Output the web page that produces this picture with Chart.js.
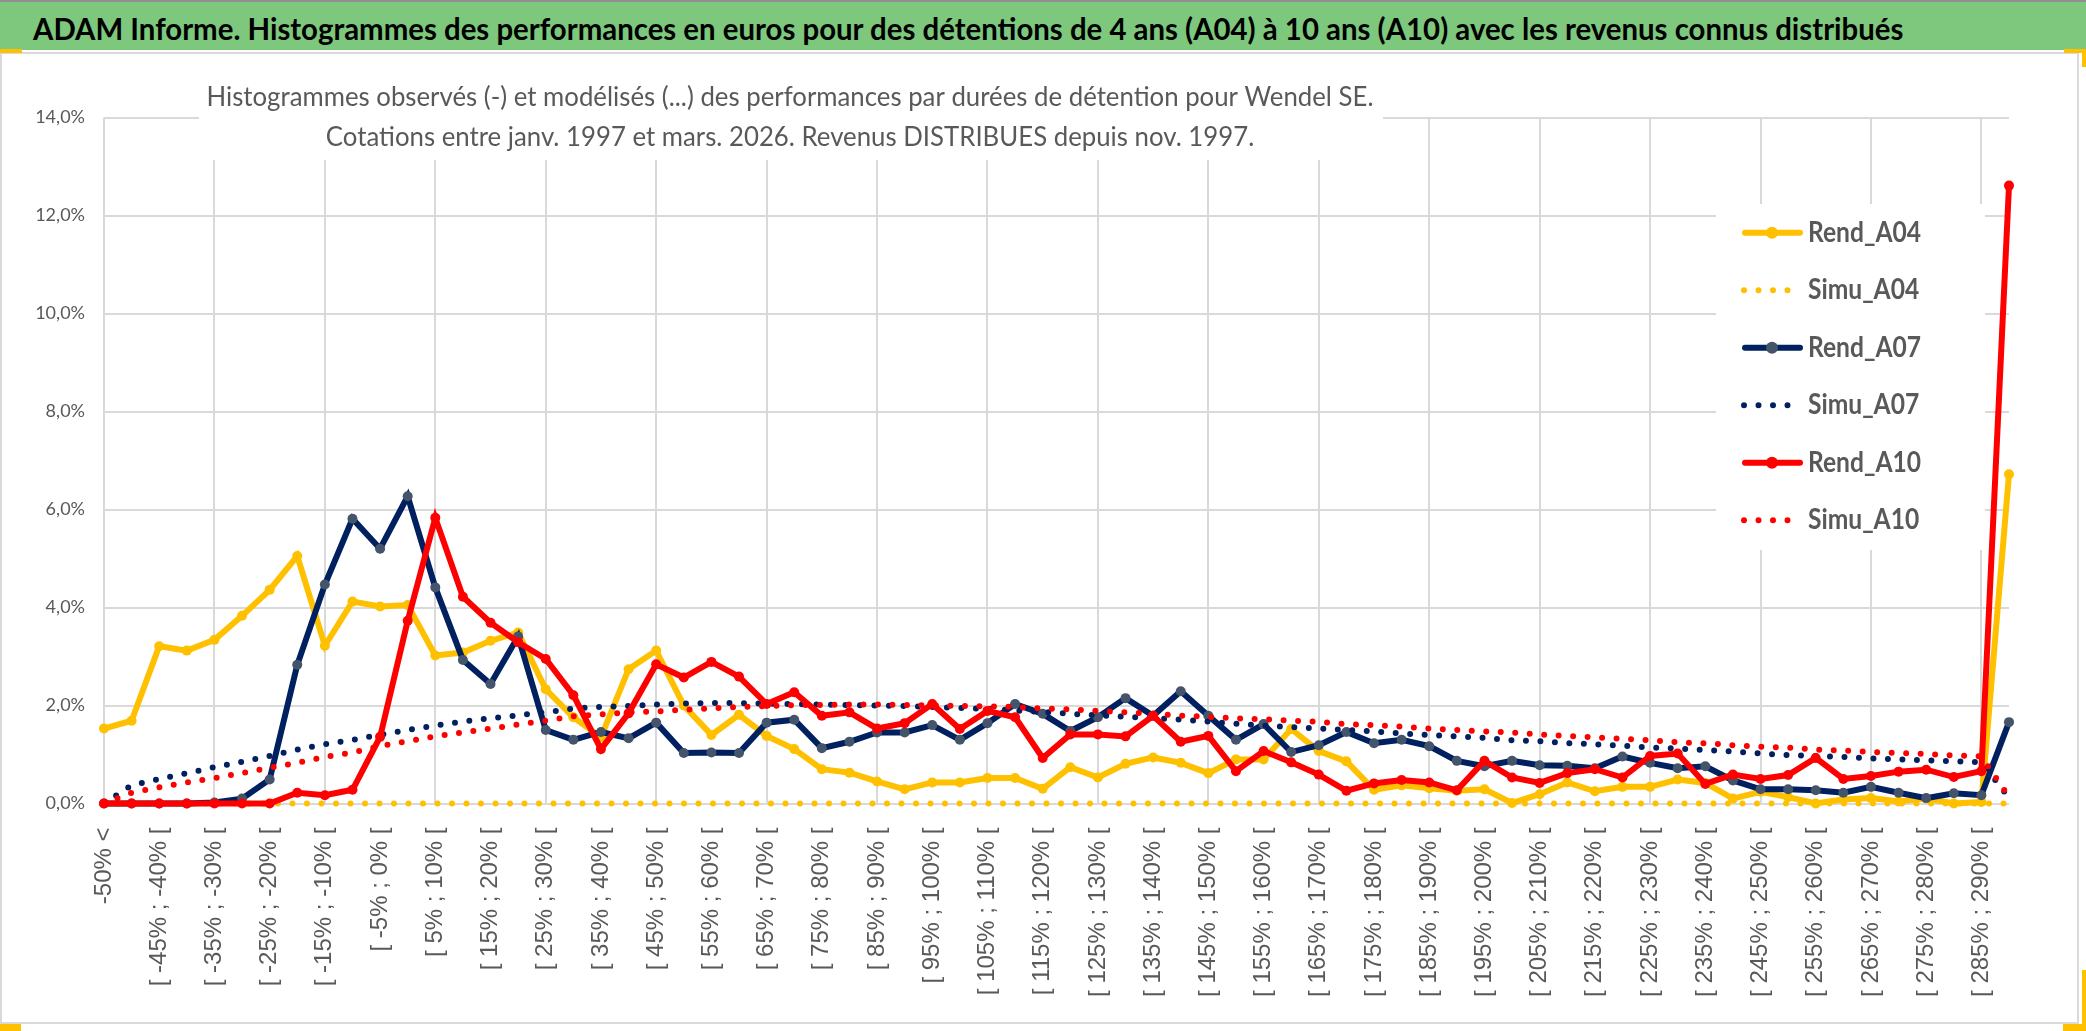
<!DOCTYPE html>
<html lang="fr">
<head>
<meta charset="utf-8">
<title>ADAM Informe - Wendel SE</title>
<script src="https://cdn.jsdelivr.net/npm/chart.js@4.4.1/dist/chart.umd.min.js"></script>
<style>
  html, body { margin: 0; padding: 0; background: #ffffff; }
  body { width: 2086px; height: 1031px; position: relative; overflow: hidden; }
  #banner { position: absolute; left: 0; top: 0; width: 2086px; height: 50px; background: #7dc87d; border-top: 2px solid #8f8f8f; box-sizing: border-box; }
  #title { position: absolute; left: 33px; top: 11px; white-space: nowrap; font-family: Lato, "Noto Sans", sans-serif; font-weight: bold; color: #000000; line-height: 1; transform-origin: left top; }
  #frame { position: absolute; left: 0; top: 52px; width: 2079px; height: 972px; border: 2px solid #d9d9d9; box-sizing: border-box; }
  .mark { position: absolute; background: #ffc000; }
  #chart { position: absolute; left: 0; top: 0; }
</style>
</head>
<body>
<div id="frame"></div>
<div id="banner"><span id="title">ADAM Informe. Histogrammes des performances en euros pour des détentions de 4 ans (A04) à 10 ans (A10) avec les revenus connus distribués</span></div>
<div class="mark" style="left:0;top:49px;width:22px;height:4px"></div>
<div class="mark" style="left:2064px;top:49px;width:22px;height:4px"></div>
<div class="mark" style="left:2082px;top:49px;width:4px;height:18px"></div>
<div class="mark" style="left:0;top:1024px;width:21px;height:7px"></div>
<div class="mark" style="left:2063px;top:1024px;width:23px;height:7px"></div>
<div class="mark" style="left:2082px;top:970px;width:4px;height:61px"></div>
<canvas id="chart" width="2086" height="1031"></canvas>
<script>
// classes de performance (abscisses)
const categories = [
  "-50% <",
  "[ -50% ; -45% [", "[ -45% ; -40% [", "[ -40% ; -35% [", "[ -35% ; -30% [", "[ -30% ; -25% [",
  "[ -25% ; -20% [", "[ -20% ; -15% [", "[ -15% ; -10% [", "[ -10% ; -5% [", "[ -5% ; 0% [",
  "[ 0% ; 5% [", "[ 5% ; 10% [", "[ 10% ; 15% [", "[ 15% ; 20% [", "[ 20% ; 25% [",
  "[ 25% ; 30% [", "[ 30% ; 35% [", "[ 35% ; 40% [", "[ 40% ; 45% [", "[ 45% ; 50% [",
  "[ 50% ; 55% [", "[ 55% ; 60% [", "[ 60% ; 65% [", "[ 65% ; 70% [", "[ 70% ; 75% [",
  "[ 75% ; 80% [", "[ 80% ; 85% [", "[ 85% ; 90% [", "[ 90% ; 95% [", "[ 95% ; 100% [",
  "[ 100% ; 105% [", "[ 105% ; 110% [", "[ 110% ; 115% [", "[ 115% ; 120% [", "[ 120% ; 125% [",
  "[ 125% ; 130% [", "[ 130% ; 135% [", "[ 135% ; 140% [", "[ 140% ; 145% [", "[ 145% ; 150% [",
  "[ 150% ; 155% [", "[ 155% ; 160% [", "[ 160% ; 165% [", "[ 165% ; 170% [", "[ 170% ; 175% [",
  "[ 175% ; 180% [", "[ 180% ; 185% [", "[ 185% ; 190% [", "[ 190% ; 195% [", "[ 195% ; 200% [",
  "[ 200% ; 205% [", "[ 205% ; 210% [", "[ 210% ; 215% [", "[ 215% ; 220% [", "[ 220% ; 225% [",
  "[ 225% ; 230% [", "[ 230% ; 235% [", "[ 235% ; 240% [", "[ 240% ; 245% [", "[ 245% ; 250% [",
  "[ 250% ; 255% [", "[ 255% ; 260% [", "[ 260% ; 265% [", "[ 265% ; 270% [", "[ 270% ; 275% [",
  "[ 275% ; 280% [", "[ 280% ; 285% [", "[ 285% ; 290% [",
  "> 290%"
];

// frequences en %
const rendA04 = [
  1.53, 1.69, 3.21, 3.12, 3.34, 3.83, 4.36, 5.05, 3.22, 4.12,
  4.02, 4.05, 3.02, 3.08, 3.32, 3.49, 2.33, 1.76, 1.35, 2.74,
  3.12, 2.00, 1.40, 1.81, 1.38, 1.11, 0.70, 0.63, 0.45, 0.29,
  0.43, 0.43, 0.52, 0.52, 0.30, 0.74, 0.53, 0.81, 0.94, 0.83,
  0.62, 0.90, 0.90, 1.52, 1.07, 0.86, 0.28, 0.37, 0.31, 0.26,
  0.29, 0.01, 0.19, 0.43, 0.25, 0.34, 0.34, 0.49, 0.42, 0.10,
  0.24, 0.13, 0.00, 0.08, 0.11, 0.04, 0.10, 0.00, 0.03, 6.72
];
const simuA04 = [
  0, 0, 0, 0, 0, 0, 0, 0, 0, 0,
  0, 0, 0, 0, 0, 0, 0, 0, 0, 0,
  0, 0, 0, 0, 0, 0, 0, 0, 0, 0,
  0, 0, 0, 0, 0, 0, 0, 0, 0, 0,
  0, 0, 0, 0, 0, 0, 0, 0, 0, 0,
  0, 0, 0, 0, 0, 0, 0, 0, 0, 0,
  0, 0, 0, 0, 0, 0, 0, 0, 0, 0
];
const rendA07 = [
  0, 0, 0, 0, 0.02, 0.10, 0.49, 2.83, 4.47, 5.81,
  5.20, 6.27, 4.41, 2.93, 2.44, 3.41, 1.50, 1.30, 1.46, 1.33,
  1.65, 1.03, 1.04, 1.03, 1.65, 1.71, 1.13, 1.26, 1.45, 1.45,
  1.60, 1.30, 1.64, 2.03, 1.83, 1.48, 1.76, 2.15, 1.79, 2.29,
  1.79, 1.30, 1.62, 1.05, 1.19, 1.46, 1.23, 1.30, 1.17, 0.87,
  0.76, 0.87, 0.78, 0.77, 0.72, 0.96, 0.83, 0.72, 0.76, 0.47,
  0.29, 0.29, 0.27, 0.22, 0.34, 0.22, 0.11, 0.21, 0.17, 1.66
];
const simuA07 = [
  0, 0.37, 0.50, 0.62, 0.74, 0.85, 0.97, 1.10, 1.21, 1.30,
  1.40, 1.50, 1.59, 1.67, 1.74, 1.80, 1.86, 1.94, 1.97, 1.99,
  2.02, 2.04, 2.05, 2.05, 2.04, 2.03, 2.02, 2.01, 2.00, 1.99,
  1.97, 1.95, 1.93, 1.90, 1.87, 1.83, 1.80, 1.77, 1.74, 1.71,
  1.67, 1.63, 1.59, 1.56, 1.53, 1.50, 1.47, 1.43, 1.40, 1.37,
  1.34, 1.29, 1.27, 1.23, 1.21, 1.18, 1.14, 1.12, 1.09, 1.06,
  1.02, 0.99, 0.97, 0.95, 0.92, 0.90, 0.88, 0.86, 0.84, 0.12
];
const rendA10 = [
  0, 0, 0, 0, 0, 0, 0, 0.22, 0.17, 0.28,
  1.36, 3.73, 5.83, 4.22, 3.69, 3.29, 2.95, 2.21, 1.11, 1.84,
  2.84, 2.57, 2.89, 2.59, 2.03, 2.27, 1.79, 1.86, 1.53, 1.64,
  2.03, 1.52, 1.89, 1.76, 0.93, 1.41, 1.41, 1.37, 1.79, 1.26,
  1.38, 0.66, 1.07, 0.84, 0.59, 0.26, 0.41, 0.48, 0.43, 0.27,
  0.87, 0.53, 0.42, 0.62, 0.70, 0.53, 0.97, 1.02, 0.40, 0.59,
  0.50, 0.58, 0.93, 0.50, 0.56, 0.65, 0.69, 0.54, 0.66, 12.61
];
const simuA10 = [
  0, 0.22, 0.33, 0.43, 0.52, 0.62, 0.73, 0.83, 0.95, 1.04,
  1.17, 1.27, 1.37, 1.45, 1.53, 1.61, 1.69, 1.78, 1.82, 1.86,
  1.88, 1.91, 1.94, 1.97, 1.99, 2.01, 2.01, 2.02, 2.02, 2.01,
  2.00, 1.99, 1.98, 1.97, 1.94, 1.92, 1.89, 1.86, 1.83, 1.79,
  1.77, 1.74, 1.72, 1.69, 1.67, 1.62, 1.60, 1.57, 1.53, 1.50,
  1.47, 1.45, 1.41, 1.38, 1.35, 1.32, 1.29, 1.25, 1.23, 1.19,
  1.16, 1.14, 1.10, 1.08, 1.05, 1.03, 1.01, 0.98, 0.96, 0.13
];

const subtitleLines = [
  "Histogrammes observés (-) et modélisés (...) des performances par durées de détention pour Wendel SE.",
  "Cotations entre janv. 1997 et mars. 2026. Revenus DISTRIBUES depuis nov. 1997."
];

const YELLOW = "#ffc000";
const NAVY = "#002060";
const RED = "#ff0000";
const GREY = "#595959";
const CALIBRI = "Lato, 'Noto Sans', sans-serif";

const measureCtx = document.createElement("canvas").getContext("2d");
const textWidth = (text, font) => {
  measureCtx.font = font;
  return measureCtx.measureText(text).width;
};

// titre du bandeau : hauteur des capitales ~22px, largeur ~1871px
const titleEl = document.getElementById("title");
const titleSize = 30.5;
titleEl.style.fontSize = titleSize + "px";
const titleW = textWidth(titleEl.textContent, `bold ${titleSize}px ${CALIBRI}`);
titleEl.style.transform = `scaleX(${1871 / titleW})`;

const rendLine = (label, data, color, pointColor, order) => ({
  label: label,
  data: data,
  borderColor: color,
  backgroundColor: color,
  borderWidth: 6,
  pointRadius: 5,
  pointBackgroundColor: pointColor,
  pointBorderWidth: 0,
  pointHoverRadius: 5,
  tension: 0,
  clip: 12,
  order: order,
});

const simuLine = (label, data, color, order) => ({
  label: label,
  data: data,
  borderColor: color,
  backgroundColor: color,
  borderWidth: 6,
  borderDash: [0, 14.5],
  borderCapStyle: "round",
  pointRadius: 0,
  tension: 0,
  clip: 12,
  order: order,
  simu: true,
});

const drawText = (ctx, text, x, y, font, color, capPx, targetW, align) => {
  ctx.save();
  ctx.font = font;
  ctx.fillStyle = color;
  ctx.textBaseline = "alphabetic";
  const w = ctx.measureText(text).width;
  const sx = targetW / w;
  ctx.translate(x, y);
  ctx.scale(sx, 1);
  ctx.textAlign = align;
  ctx.fillText(text, 0, 0);
  ctx.restore();
};

const decorations = {
  id: "decorations",
  beforeDatasetsDraw(chart) {
    const c = chart.ctx;
    c.save();
    c.fillStyle = "#ffffff";
    c.fillRect(199, 60, 1184, 100);   // zone du sous-titre
    c.fillRect(1716, 204, 269, 346);  // zone de la legende
    c.restore();
  },
  afterDraw(chart) {
    const c = chart.ctx;

    // sous-titre en deux lignes
    const subSize = 26.4;
    const subFont = `${subSize}px ${CALIBRI}`;
    c.font = subFont;
    const sx = 1167 / c.measureText(subtitleLines[0]).width;
    const w2 = c.measureText(subtitleLines[1]).width * sx;
    drawText(c, subtitleLines[0], 790, 106, subFont, GREY, 19, 1167, "center");
    drawText(c, subtitleLines[1], 790, 146, subFont, GREY, 19, w2, "center");

    // legende
    const legSize = 27.8;
    const legFont = `bold ${legSize}px ${CALIBRI}`;
    c.font = legFont;
    const lsx = 113 / c.measureText("Rend_A04").width;
    chart.data.datasets.forEach((ds, i) => {
      const y = 232.7 + i * 57.5;
      c.save();
      c.strokeStyle = ds.borderColor;
      c.lineWidth = 6;
      c.lineCap = "round";
      if (ds.simu) {
        c.setLineDash([0, 14.5]);
        c.beginPath();
        c.moveTo(1744, y);
        c.lineTo(1790, y);
        c.stroke();
      } else {
        c.beginPath();
        c.moveTo(1745, y);
        c.lineTo(1800, y);
        c.stroke();
        c.fillStyle = ds.pointBackgroundColor;
        c.beginPath();
        c.arc(1772, y, 6, 0, Math.PI * 2);
        c.fill();
      }
      c.restore();
      const w = c.measureText(ds.label).width * lsx;
      drawText(c, ds.label, 1808, y + 9, legFont, GREY, 20, w, "left");
    });
  },
};

const ctx = document.getElementById("chart").getContext("2d");
new Chart(ctx, {
  type: "line",
  data: {
    labels: categories,
    datasets: [
      rendLine("Rend_A04", rendA04, YELLOW, YELLOW, 6),
      simuLine("Simu_A04", simuA04, YELLOW, 5),
      rendLine("Rend_A07", rendA07, NAVY, "#44546a", 4),
      simuLine("Simu_A07", simuA07, NAVY, 3),
      rendLine("Rend_A10", rendA10, RED, RED, 2),
      simuLine("Simu_A10", simuA10, RED, 1),
    ],
  },
  options: {
    responsive: false,
    animation: false,
    layout: {
      padding: { left: 0, top: 117.5, right: 77, bottom: 0 },
    },
    plugins: {
      legend: { display: false },
      tooltip: { enabled: false },
    },
    scales: {
      x: {
        offset: false,
        afterFit: (scale) => {
          scale.height = 227.5;
        },
        border: { display: false },
        grid: {
          color: (c) => (c.index % 4 === 0 ? "#d9d9d9" : "rgba(0,0,0,0)"),
          lineWidth: 2,
          drawTicks: false,
        },
        ticks: {
          autoSkip: false,
          maxRotation: 90,
          minRotation: 90,
          padding: 24,
          color: GREY,
          font: { family: "'Liberation Sans', Arial, sans-serif", size: 24 },
          callback: (value, index) => (index % 2 === 0 ? categories[index] : ""),
        },
      },
      y: {
        min: 0,
        max: 14,
        afterFit: (scale) => {
          scale.width = 104;
        },
        border: { display: false },
        grid: {
          color: "#d9d9d9",
          lineWidth: 2,
          drawTicks: false,
        },
        ticks: {
          stepSize: 2,
          padding: 19,
          color: GREY,
          font: { family: CALIBRI, size: 18 },
          callback: (value) => value.toFixed(1).replace(".", ",") + "%",
        },
      },
    },
  },
  plugins: [decorations],
});
</script>
</body>
</html>
